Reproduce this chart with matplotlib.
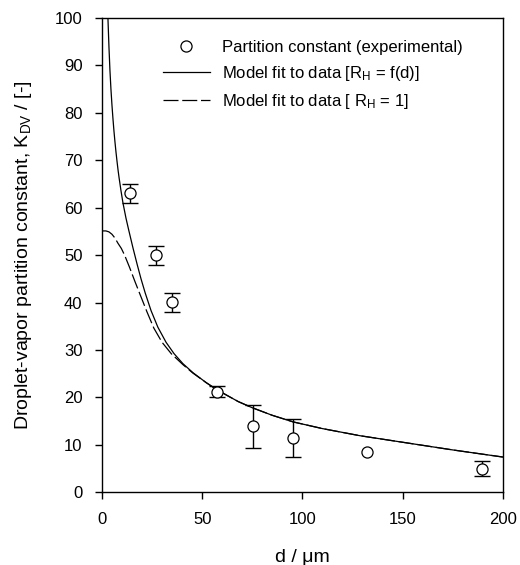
import numpy as np
import matplotlib
matplotlib.use('Agg')
import matplotlib.pyplot as plt
from matplotlib.lines import Line2D

plt.rcParams['font.family'] = ['Liberation Sans', 'DejaVu Sans']
plt.rcParams['mathtext.fontset'] = 'custom'
plt.rcParams['mathtext.rm'] = 'Liberation Sans'
plt.rcParams['mathtext.it'] = 'Liberation Sans:italic'

# experimental partition constants (error 0 -> no visible bar)
d_exp = [14.0, 27.2, 35.2, 57.2, 75.2, 95.5, 132.4, 189.5]
k_exp = [63.0, 50.0, 40.1, 21.2, 13.9, 11.4, 8.4, 4.9]
k_err = [2.0, 2.0, 2.0, 1.2, 4.5, 4.0, 0.0, 1.6]

# model fit, R_H = f(d)
d_fit = [3.0, 3.5, 4.0, 4.5, 5.0, 5.5, 6.0, 6.5, 7.0, 7.5, 8.0, 8.5, 9.5, 10.5,
         12.0, 13.3, 15.5, 17.6, 19.5, 21.6, 24.5, 27.9, 32.0, 36.0, 40.4, 45.4,
         52.0, 57.0, 62.0, 68.0, 75.0, 85.0, 95.5, 110.0, 128.7, 150.3, 175.0, 200.0]
k_fit = [100.0, 94.0, 89.0, 85.0, 81.7, 78.8, 76.2, 73.9, 71.8, 69.9, 68.1, 66.5, 63.6, 61.0,
         57.8, 55.4, 51.5, 48.0, 45.0, 42.0, 38.3, 34.8, 31.6, 29.2, 27.1, 25.2,
         23.1, 21.7, 20.5, 19.1, 17.8, 16.2, 14.8, 13.4, 11.9, 10.5, 8.9, 7.4]

# model fit, R_H = 1
d_fit1 = [0.0, 2.0, 3.5, 5.0, 6.5, 8.0, 9.7, 11.3, 13.8, 16.5, 19.3, 22.5, 25.9,
          30.0, 34.6, 40.4, 45.4, 52.0, 57.0, 62.0, 68.0, 75.0, 85.0, 95.5, 110.0,
          128.7, 150.3, 175.0, 200.0]
k_fit1 = [55.1, 55.1, 54.9, 54.4, 53.6, 52.5, 51.4, 50.0, 47.4, 44.4, 41.4, 38.0, 34.6,
          31.6, 29.2, 26.9, 25.1, 23.1, 21.7, 20.5, 19.1, 17.8, 16.2, 14.8, 13.4,
          11.9, 10.5, 8.9, 7.4]

fig = plt.figure(figsize=(5.2, 5.65), dpi=100)
ax = fig.add_axes([0.196, 0.129, 0.771, 0.839])

has_err = [e > 0 for e in k_err]
ax.errorbar([d for d, h in zip(d_exp, has_err) if h],
            [k for k, h in zip(k_exp, has_err) if h],
            yerr=[e for e, h in zip(k_err, has_err) if h],
            fmt='none', ecolor='black', elinewidth=1.0, capsize=5.5, capthick=1.0,
            zorder=2)
ax.plot(d_exp, k_exp, 'o', ms=8, mfc='white', mec='black', mew=0.9, zorder=3)
ax.plot(d_fit, k_fit, color='black', lw=0.9)
ax.plot(d_fit1, k_fit1, color='black', lw=0.9, dashes=(12, 3))

ax.set_xlim(0, 200)
ax.set_ylim(0, 100)
ax.set_xticks(np.arange(0, 201, 50))
ax.set_yticks(np.arange(0, 101, 10))
ax.tick_params(axis='both', direction='out', length=5, width=1, labelsize=12,
               top=False, right=False)
ax.tick_params(axis='y', pad=9)
ax.tick_params(axis='x', pad=9)
for s in ax.spines.values():
    s.set_linewidth(1.0)

ax.set_xlabel('d / μm', fontsize=14, labelpad=16)
ax.set_ylabel('Droplet-vapor partition constant, K$_\\mathrm{DV}$ / [-]', fontsize=14,
              labelpad=15)

handles = [
    Line2D([], [], ls='none', marker='o', ms=8, mfc='white', mec='black', mew=0.9),
    Line2D([], [], color='black', lw=0.9),
    Line2D([], [], color='black', lw=0.9, dashes=(12, 3)),
]
labels = ['Partition constant (experimental)',
          'Model fit to data [R$_\\mathrm{H}$ = f(d)]',
          'Model fit to data [ R$_\\mathrm{H}$ = 1]']
ax.legend(handles, labels, loc='upper left', bbox_to_anchor=(0.135, 0.968),
          borderaxespad=0, frameon=False, fontsize=12, handlelength=2.85,
          handletextpad=0.68, labelspacing=0.54, numpoints=1)

plt.savefig('out.png', dpi=100)
